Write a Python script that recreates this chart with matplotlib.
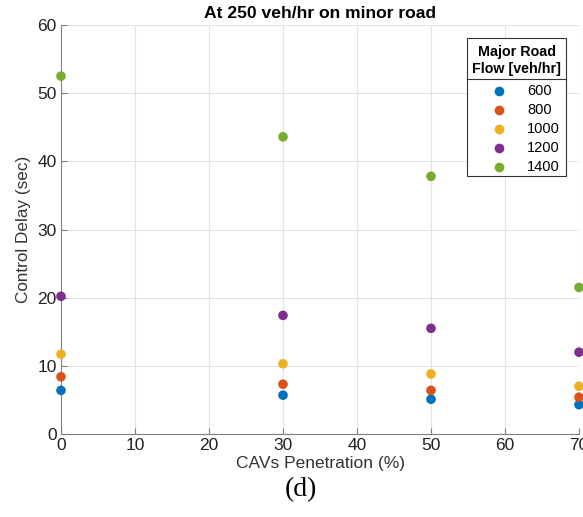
import matplotlib.pyplot as plt
from matplotlib.lines import Line2D
from matplotlib.patches import Rectangle

plt.rcParams['font.family'] = ['Liberation Sans', 'DejaVu Sans']

penetration = [0, 30, 50, 70]
flows = ['600', '800', '1000', '1200', '1400']
delay_600 = [6.4, 5.7, 5.1, 4.3]
delay_800 = [8.4, 7.3, 6.4, 5.4]
delay_1000 = [11.7, 10.3, 8.8, 7.0]
delay_1200 = [20.2, 17.4, 15.5, 12.0]
delay_1400 = [52.5, 43.6, 37.8, 21.5]
delays = [delay_600, delay_800, delay_1000, delay_1200, delay_1400]
colors = ['#0072BD', '#D95319', '#EDB120', '#7E2F8E', '#77AC30']

W, H = 583, 517
fig = plt.figure(figsize=(W / 100, H / 100), dpi=100)
ax = fig.add_axes([61 / W, 1 - 434 / H, 518 / W, 409 / H])

for d, c, lab in zip(delays, colors, flows):
    ax.scatter(penetration, d, s=48, color=c, label=lab, zorder=3, clip_on=False,
               edgecolors='none')

ax.set_xlim(0, 70)
ax.set_ylim(0, 60)
ax.set_xticks(range(0, 71, 10))
ax.set_yticks(range(0, 61, 10))
ax.grid(True, color='#e3e3e3', linewidth=0.8)
ax.set_axisbelow(True)
for s in ['top', 'right']:
    ax.spines[s].set_visible(False)
for s in ['left', 'bottom']:
    ax.spines[s].set_color('#808080')
ax.tick_params(direction='in', length=4, colors='#808080', labelcolor='#222222',
               labelsize=12.5, pad=3)

ax.set_xlabel('CAVs Penetration (%)', fontsize=12.5, color='#333333', labelpad=2)
ax.set_ylabel('Control Delay (sec)', fontsize=12.3, color='#333333', labelpad=5)
ax.set_title('At 250 veh/hr on minor road', fontsize=12.6, fontweight='bold', pad=5)

# legend box drawn by hand (MATLAB style, title separated by a rule)
fx = lambda px: px / W
fy = lambda py: 1 - py / H
fig.add_artist(Rectangle((fx(467), fy(176)), fx(566) - fx(467), fy(38) - fy(176),
                         transform=fig.transFigure, facecolor='white',
                         edgecolor='#333333', linewidth=0.8, zorder=5))
fig.text(fx(516.5), fy(52), 'Major Road', ha='center', va='center', fontsize=10.3,
         fontweight='bold', zorder=6)
fig.text(fx(516.5), fy(69), 'Flow [veh/hr]', ha='center', va='center', fontsize=10.3,
         fontweight='bold', zorder=6)
fig.add_artist(Line2D([fx(467), fx(566)], [fy(79), fy(79)], color='#333333',
                      linewidth=0.8, transform=fig.transFigure, zorder=6))
for i, (c, lab) in enumerate(zip(colors, flows)):
    yy = fy(91 + i * 19)
    fig.add_artist(Line2D([fx(499)], [yy], marker='o', markersize=7, color=c,
                          markeredgecolor='none', transform=fig.transFigure, zorder=6))
    fig.text(fx(527), yy, lab, ha='left', va='center', fontsize=10.5, zorder=6)

fig.text(fx(301), fy(490), '(d)', fontsize=20, ha='center', va='center',
         family='Liberation Serif')

fig.savefig('out.png', dpi=100)
